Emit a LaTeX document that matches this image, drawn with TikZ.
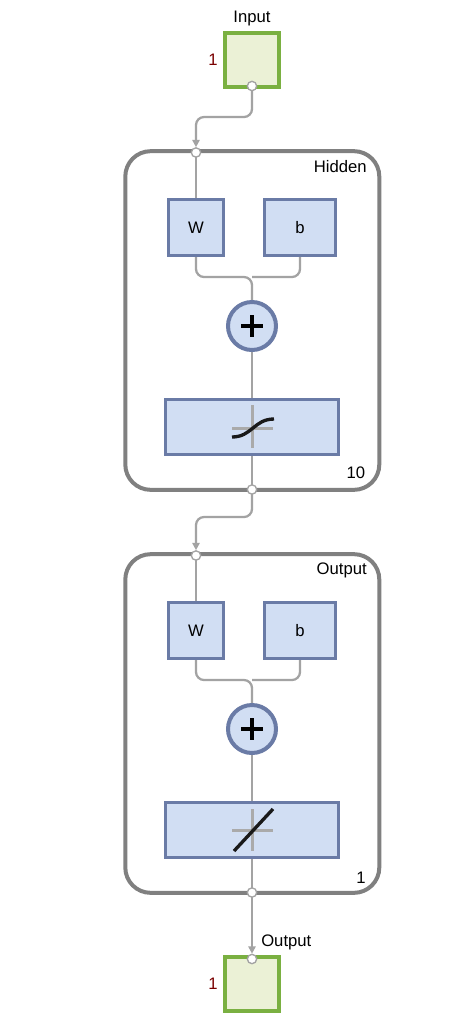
\documentclass[tikz,border=0pt]{standalone}
\usepackage{fontspec}
\setmainfont{Liberation Sans}
\usetikzlibrary{arrows.meta,calc}
\definecolor{iogreen}{HTML}{7AB041}
\definecolor{iofill}{HTML}{EBF1D6}
\definecolor{blueedge}{HTML}{6A7BA6}
\definecolor{bluefill}{HTML}{D1DEF3}
\definecolor{wire}{HTML}{A3A3A3}
\definecolor{crossgray}{HTML}{AAAAAA}
\definecolor{layeredge}{HTML}{808080}
\definecolor{darkred}{HTML}{7A0000}
\pgfdeclarelayer{background}
\pgfsetlayers{background,main}
\begin{document}
\begin{tikzpicture}[x=0.75pt,y=-0.75pt,
  iobox/.style={draw=iogreen, fill=iofill, line width=3pt, minimum width=40.5pt, minimum height=40.5pt, inner sep=0pt},
  layerbox/.style={draw=layeredge, line width=3pt, rounded corners=19pt, minimum width=190.5pt, minimum height=254pt, inner sep=0pt},
  wbox/.style={draw=blueedge, fill=bluefill, line width=2.4pt, minimum width=41.25pt, minimum height=42pt, inner sep=0pt, font=\fontsize{12.5pt}{14pt}\selectfont},
  bbox/.style={draw=blueedge, fill=bluefill, line width=2.4pt, minimum width=53.25pt, minimum height=42pt, inner sep=0pt, font=\fontsize{12.5pt}{14pt}\selectfont},
  sumnode/.style={circle, draw=blueedge, fill=bluefill, line width=3pt, minimum size=36pt, inner sep=0pt},
  tfbox/.style={draw=blueedge, fill=bluefill, line width=2.4pt, minimum width=129.75pt, minimum height=41.25pt, inner sep=0pt},
  port/.style={circle, draw=wire, fill=white, line width=1pt, minimum size=7pt, inner sep=0pt},
  wireline/.style={draw=wire, line width=1.7pt, rounded corners=6pt},
  arrowwire/.style={wireline, -{Triangle[width=5.5pt,length=5.5pt]}},
  lbl/.style={font=\fontsize{12.5pt}{14pt}\selectfont, inner sep=0pt},
  reddigit/.style={lbl, text=darkred},
  crossline/.style={draw=crossgray, line width=2.25pt},
  iconline/.style={draw=black!90, line width=2.5pt},
  plusline/.style={draw=black, line width=2.4pt}
]
\useasboundingbox (0,0) rectangle (455,1026);

% ---------- Input ----------
\node[iobox] (inbox) at (252,60) {};
\node[lbl] (inlabel) at (252,18) {Input};
\node[reddigit] (innum) at (213,60) {1};

% ---------- Hidden layer ----------
\node[layerbox] (hidden) at (252.3,320.5) {};
\node[lbl, anchor=east] (hidlabel) at (367,167) {Hidden};
\node[lbl] (hidnum) at (356,473) {10};
\node[wbox] (hW) at (196,227.5) {W};
\node[bbox] (hb) at (300,227.5) {b};
\node[sumnode] (hsum) at (252,326) {};
\node[tfbox] (htf) at (252,427) {};
\coordinate (hjoin) at (252,277);

% ---------- Output layer ----------
\node[layerbox] (outl) at (252.3,723.5) {};
\node[lbl, anchor=east] (outllabel) at (367,570) {Output};
\node[lbl] (outnum) at (361,878) {1};
\node[wbox] (oW) at (196,630.5) {W};
\node[bbox] (ob) at (300,630.5) {b};
\node[sumnode] (osum) at (252,729) {};
\node[tfbox] (otf) at (252,830) {};
\coordinate (ojoin) at (252,680);

% ---------- Output ----------
\node[iobox] (outbox) at (252,984) {};
\node[lbl, anchor=west] (outlabel) at (261,942) {Output};
\node[reddigit] (outboxnum) at (213,984) {1};

% ---------- ports ----------
\node[port] (inport) at (252,86) {};
\node[port] (hin) at (196,152.5) {};
\node[port] (hout) at (252,489.5) {};
\node[port] (oin) at (196,555.5) {};
\node[port] (oout) at (252,892.5) {};
\node[port] (outport) at (252,959) {};

\coordinate (b1) at (252,117);
\coordinate (b2) at (196,117);
\coordinate (b3) at (252,517);
\coordinate (b4) at (196,517);

% ---------- icons ----------
\draw[plusline] ($(hsum)+(-11,0)$) -- ($(hsum)+(11,0)$);
\draw[plusline] ($(hsum)+(0,-11)$) -- ($(hsum)+(0,11)$);
\draw[plusline] ($(osum)+(-11,0)$) -- ($(osum)+(11,0)$);
\draw[plusline] ($(osum)+(0,-11)$) -- ($(osum)+(0,11)$);

\draw[crossline] ($(htf)+(-20,1)$) -- ($(htf)+(21,1)$);
\draw[crossline] ($(htf)+(0,-22)$) -- ($(htf)+(0,21)$);
\draw[iconline] ($(htf)+(-20,10)$) .. controls ($(htf)+(0,10)$) and ($(htf)+(2,-8)$) .. ($(htf)+(22,-8)$);

\draw[crossline] ($(otf)+(-20,0)$) -- ($(otf)+(21,0)$);
\draw[crossline] ($(otf)+(0,-21)$) -- ($(otf)+(0,21)$);
\draw[iconline] ($(otf)+(-18,21)$) -- ($(otf)+(21,-21)$);

% ---------- wires ----------
\begin{pgfonlayer}{background}
\draw[arrowwire] (inport.center) -- (b1) -- (b2) -- (hin.north);
\draw[wireline] (hin.center) -- (hW.north);
\draw[wireline] (hW.south) |- (hjoin) -- (hsum.north);
\draw[wireline] (hb.south) |- (hjoin);
\draw[wireline] (hsum.south) -- (htf.north);
\draw[wireline] (htf.south) -- (hout.center);
\draw[arrowwire] (hout.center) -- (b3) -- (b4) -- (oin.north);
\draw[wireline] (oin.center) -- (oW.north);
\draw[wireline] (oW.south) |- (ojoin) -- (osum.north);
\draw[wireline] (ob.south) |- (ojoin);
\draw[wireline] (osum.south) -- (otf.north);
\draw[wireline] (otf.south) -- (oout.center);
\draw[arrowwire] (oout.center) -- (outport.north);
\end{pgfonlayer}
\end{tikzpicture}
\end{document}
